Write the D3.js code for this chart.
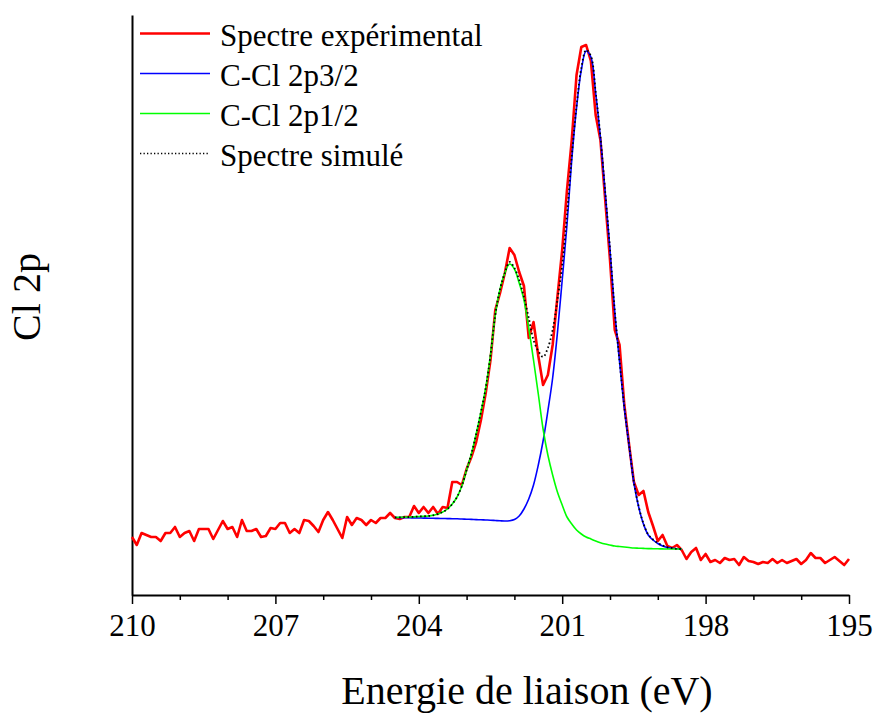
<!DOCTYPE html>
<html><head><meta charset="utf-8">
<script src="https://cdn.jsdelivr.net/npm/d3@7"></script>
<style>
body{margin:0;background:#fff}
svg{display:block}
text{font-family:"Liberation Serif","Times New Roman",Times,serif;fill:#000}
</style>
</head><body>
<svg id="c" width="874" height="715"></svg>
<script>
// ---- Data (binding energy in eV, intensity in arbitrary units) ----
const energyExp = [
210.0,209.9,209.8,209.7,209.6,209.5,209.4,209.3,209.2,209.1,
209.0,208.9,208.8,208.7,208.6,208.5,208.4,208.3,208.2,208.1,
208.0,207.9,207.8,207.7,207.6,207.5,207.4,207.3,207.2,207.1,
207.0,206.9,206.8,206.7,206.6,206.5,206.4,206.3,206.2,206.1,
206.0,205.9,205.8,205.7,205.6,205.5,205.4,205.3,205.2,205.1,
205.0,204.9,204.8,204.7,204.6,204.5,204.4,204.3,204.2,204.1,
204.0,203.9,203.8,203.7,203.6,203.5,203.4,203.3,203.2,203.1,
203.0,202.9,202.8,202.7,202.6,202.5,202.4,202.3,202.2,202.1,
202.0,201.9,201.8,201.7,201.6,201.5,201.4,201.3,201.2,201.1,
201.0,200.9,200.8,200.7,200.6,200.5,200.4,200.3,200.2,200.1,
200.0,199.9,199.8,199.7,199.6,199.5,199.4,199.3,199.2,199.1,
199.0,198.9,198.8,198.7,198.6,198.5,198.4,198.3,198.2,198.1,
198.0,197.9,197.8,197.7,197.6,197.5,197.4,197.3,197.2,197.1,
197.0,196.9,196.8,196.7,196.6,196.5,196.4,196.3,196.2,196.1,
196.0,195.9,195.8,195.7,195.6,195.5,195.4,195.3,195.2,195.1,
195.0];
const intensityExp = [
58,50,62,60,58,58,54,62,62,68,
58,62,64,54,66,66,66,56,65,74,
66,68,58,75,64,64,66,58,59,67,
66,72,72,62,66,62,75,74,69,63,
75,83,75,66,57,78,70,77,75,70,
75,72,77,77,82,77,76,78,78,89,
82,88,82,88,81,88,87,113,113,110,
126,138,153,175,202,235,285,302,322,347,
340,323,309,257,273,239,210,220,250,298,
345,405,455,520,548,550,534,480,455,395,
335,265,250,190,150,113,100,104,83,69,
54,60,49,47,50,45,36,43,47,35,
41,33,35,32,37,35,36,30,38,34,
33,31,33,32,36,32,35,32,34,36,
31,35,42,37,37,32,35,38,34,30,
36];

const energyFit = [
204.5,204.4,204.3,204.2,204.1,204.0,203.9,203.8,203.7,203.6,
203.5,203.4,203.3,203.2,203.1,203.0,202.9,202.8,202.7,202.6,
202.5,202.4,202.3,202.2,202.1,202.0,201.9,201.8,201.7,201.6,
201.5,201.4,201.3,201.2,201.1,201.0,200.9,200.8,200.7,200.6,
200.5,200.4,200.3,200.2,200.1,200.0,199.9,199.8,199.7,199.6,
199.5,199.4,199.3,199.2,199.1,199.0,198.9,198.8,198.7,198.6,
198.5];
const fit2p32 = [
77.5,77.4,77.3,77.2,77.1,77,76.9,76.8,76.7,76.6,
76.5,76.4,76.3,76.2,76,75.8,75.6,75.4,75.2,75,
74.8,74.5,74.2,74.0,74.3,75.5,79,86,96,110,
130,154,184,217,262,315,370,435,487,525,
544,538,502,457,402,345,283,233,187,149,
112,88,71,60,55,51.5,49,47.5,46.7,46.2,
46];
const fit2p12 = [
77.5,77.7,77.8,78,78.2,78.5,78.7,79,79.7,81,
83,86,91,98,109,125,141,161,183,207,
240,280,306,322,331,326,312,295,267,235,
201,166,140,120,103,90,78,71,65,61,
58,56,54,52.3,51,50,49,48.5,48,47.5,
47,46.8,46.6,46.4,46.3,46.2,46.1,46,46,46,
46];
const fitSum = [
77.5,77.7,77.8,78,78.2,78.5,78.7,79,79.7,81,
83,86,91,98,109,125,141,161,183,207,
240,280,306,322,333,327,315,298,277,255,
244,238,247,265,295,330,380,439,489,527,
545,539,503,458,403,346,284,234,188,150,
113,88.5,71.5,60.5,55.5,52,49.5,47.7,46.8,46.2,
46];

const xMajorTicks = [210,207,204,201,198,195];
const xMinorTicks = [209,208,206,205,203,202,200,199,197,196];
const legendLabels = ["Spectre expérimental","C-Cl 2p3/2","C-Cl 2p1/2","Spectre simulé"];
const xTitle = "Energie de liaison (eV)";
const yTitle = "Cl 2p";

// ---- Chart ----
const svg = d3.select("#c");
const x = d3.scaleLinear().domain([210,195]).range([132,849]);
const y = d3.scaleLinear().domain([0,580]).range([595,15]);

// bottom axis (major)
const gx = svg.append("g").attr("transform","translate(0,595)")
  .call(d3.axisBottom(x).tickValues(xMajorTicks).tickSize(9).tickSizeOuter(0).tickFormat(d3.format("d")));
gx.select(".domain").attr("stroke","#000").attr("stroke-width",2);
gx.selectAll(".tick line").attr("stroke","#000").attr("stroke-width",1.5);
gx.selectAll(".tick text").attr("y",41).attr("dy",0)
  .style("font-family",'"Liberation Serif","Times New Roman",serif').style("font-size","31px");
// minor ticks
const gm = svg.append("g").attr("transform","translate(0,595)")
  .call(d3.axisBottom(x).tickValues(xMinorTicks).tickSize(5).tickSizeOuter(0).tickFormat(""));
gm.select(".domain").remove();
gm.selectAll(".tick line").attr("stroke","#000").attr("stroke-width",1.5);

// left axis (no ticks)
const gy = svg.append("g").attr("transform","translate(132,0)")
  .call(d3.axisLeft(y).tickValues([]).tickSizeOuter(0));
gy.select(".domain").attr("stroke","#000").attr("stroke-width",2);

// lines
const expData = energyExp.map((e,i)=>({e, v:intensityExp[i]}));
const lineLin = d3.line().x(d=>x(d.e)).y(d=>y(d.v));
const lineSmooth = d3.line().x(d=>x(d.e)).y(d=>y(d.v)).curve(d3.curveCatmullRom.alpha(0.5));
const mk = arr => energyFit.map((e,i)=>({e, v:arr[i]}));

svg.append("path").datum(expData).attr("d",lineLin)
  .attr("fill","none").attr("stroke","#ff0000").attr("stroke-width",2.6).attr("stroke-linejoin","round");
svg.append("path").datum(mk(fit2p32)).attr("d",lineSmooth)
  .attr("fill","none").attr("stroke","#0000ff").attr("stroke-width",1.6);
svg.append("path").datum(mk(fit2p12)).attr("d",lineSmooth)
  .attr("fill","none").attr("stroke","#00ff00").attr("stroke-width",1.6);
svg.append("path").datum(mk(fitSum)).attr("d",lineSmooth)
  .attr("fill","none").attr("stroke","#000").attr("stroke-width",1.8).attr("stroke-dasharray","1.6,2.6");

// legend
const legendStyles = [
  {c:"#ff0000", w:2.6, d:null},
  {c:"#0000ff", w:1.6, d:null},
  {c:"#00ff00", w:1.6, d:null},
  {c:"#000000", w:1.3, d:"1.3,2.2"}
];
const lg = svg.append("g");
legendLabels.forEach((t,i)=>{
  const yy = 33.5 + i*40;
  const ln = lg.append("line").attr("x1",140).attr("x2",210).attr("y1",yy).attr("y2",yy)
    .attr("stroke",legendStyles[i].c).attr("stroke-width",legendStyles[i].w);
  if (legendStyles[i].d) ln.attr("stroke-dasharray",legendStyles[i].d);
  lg.append("text").attr("x",220).attr("y",yy+12).style("font-size","31px").text(t);
});

// axis titles
svg.append("text").attr("x",527).attr("y",704).attr("text-anchor","middle")
  .style("font-size","40px").text(xTitle);
svg.append("text").attr("transform","translate(40,297) rotate(-90)").attr("text-anchor","middle")
  .style("font-size","40px").text(yTitle);
</script>
</body></html>
